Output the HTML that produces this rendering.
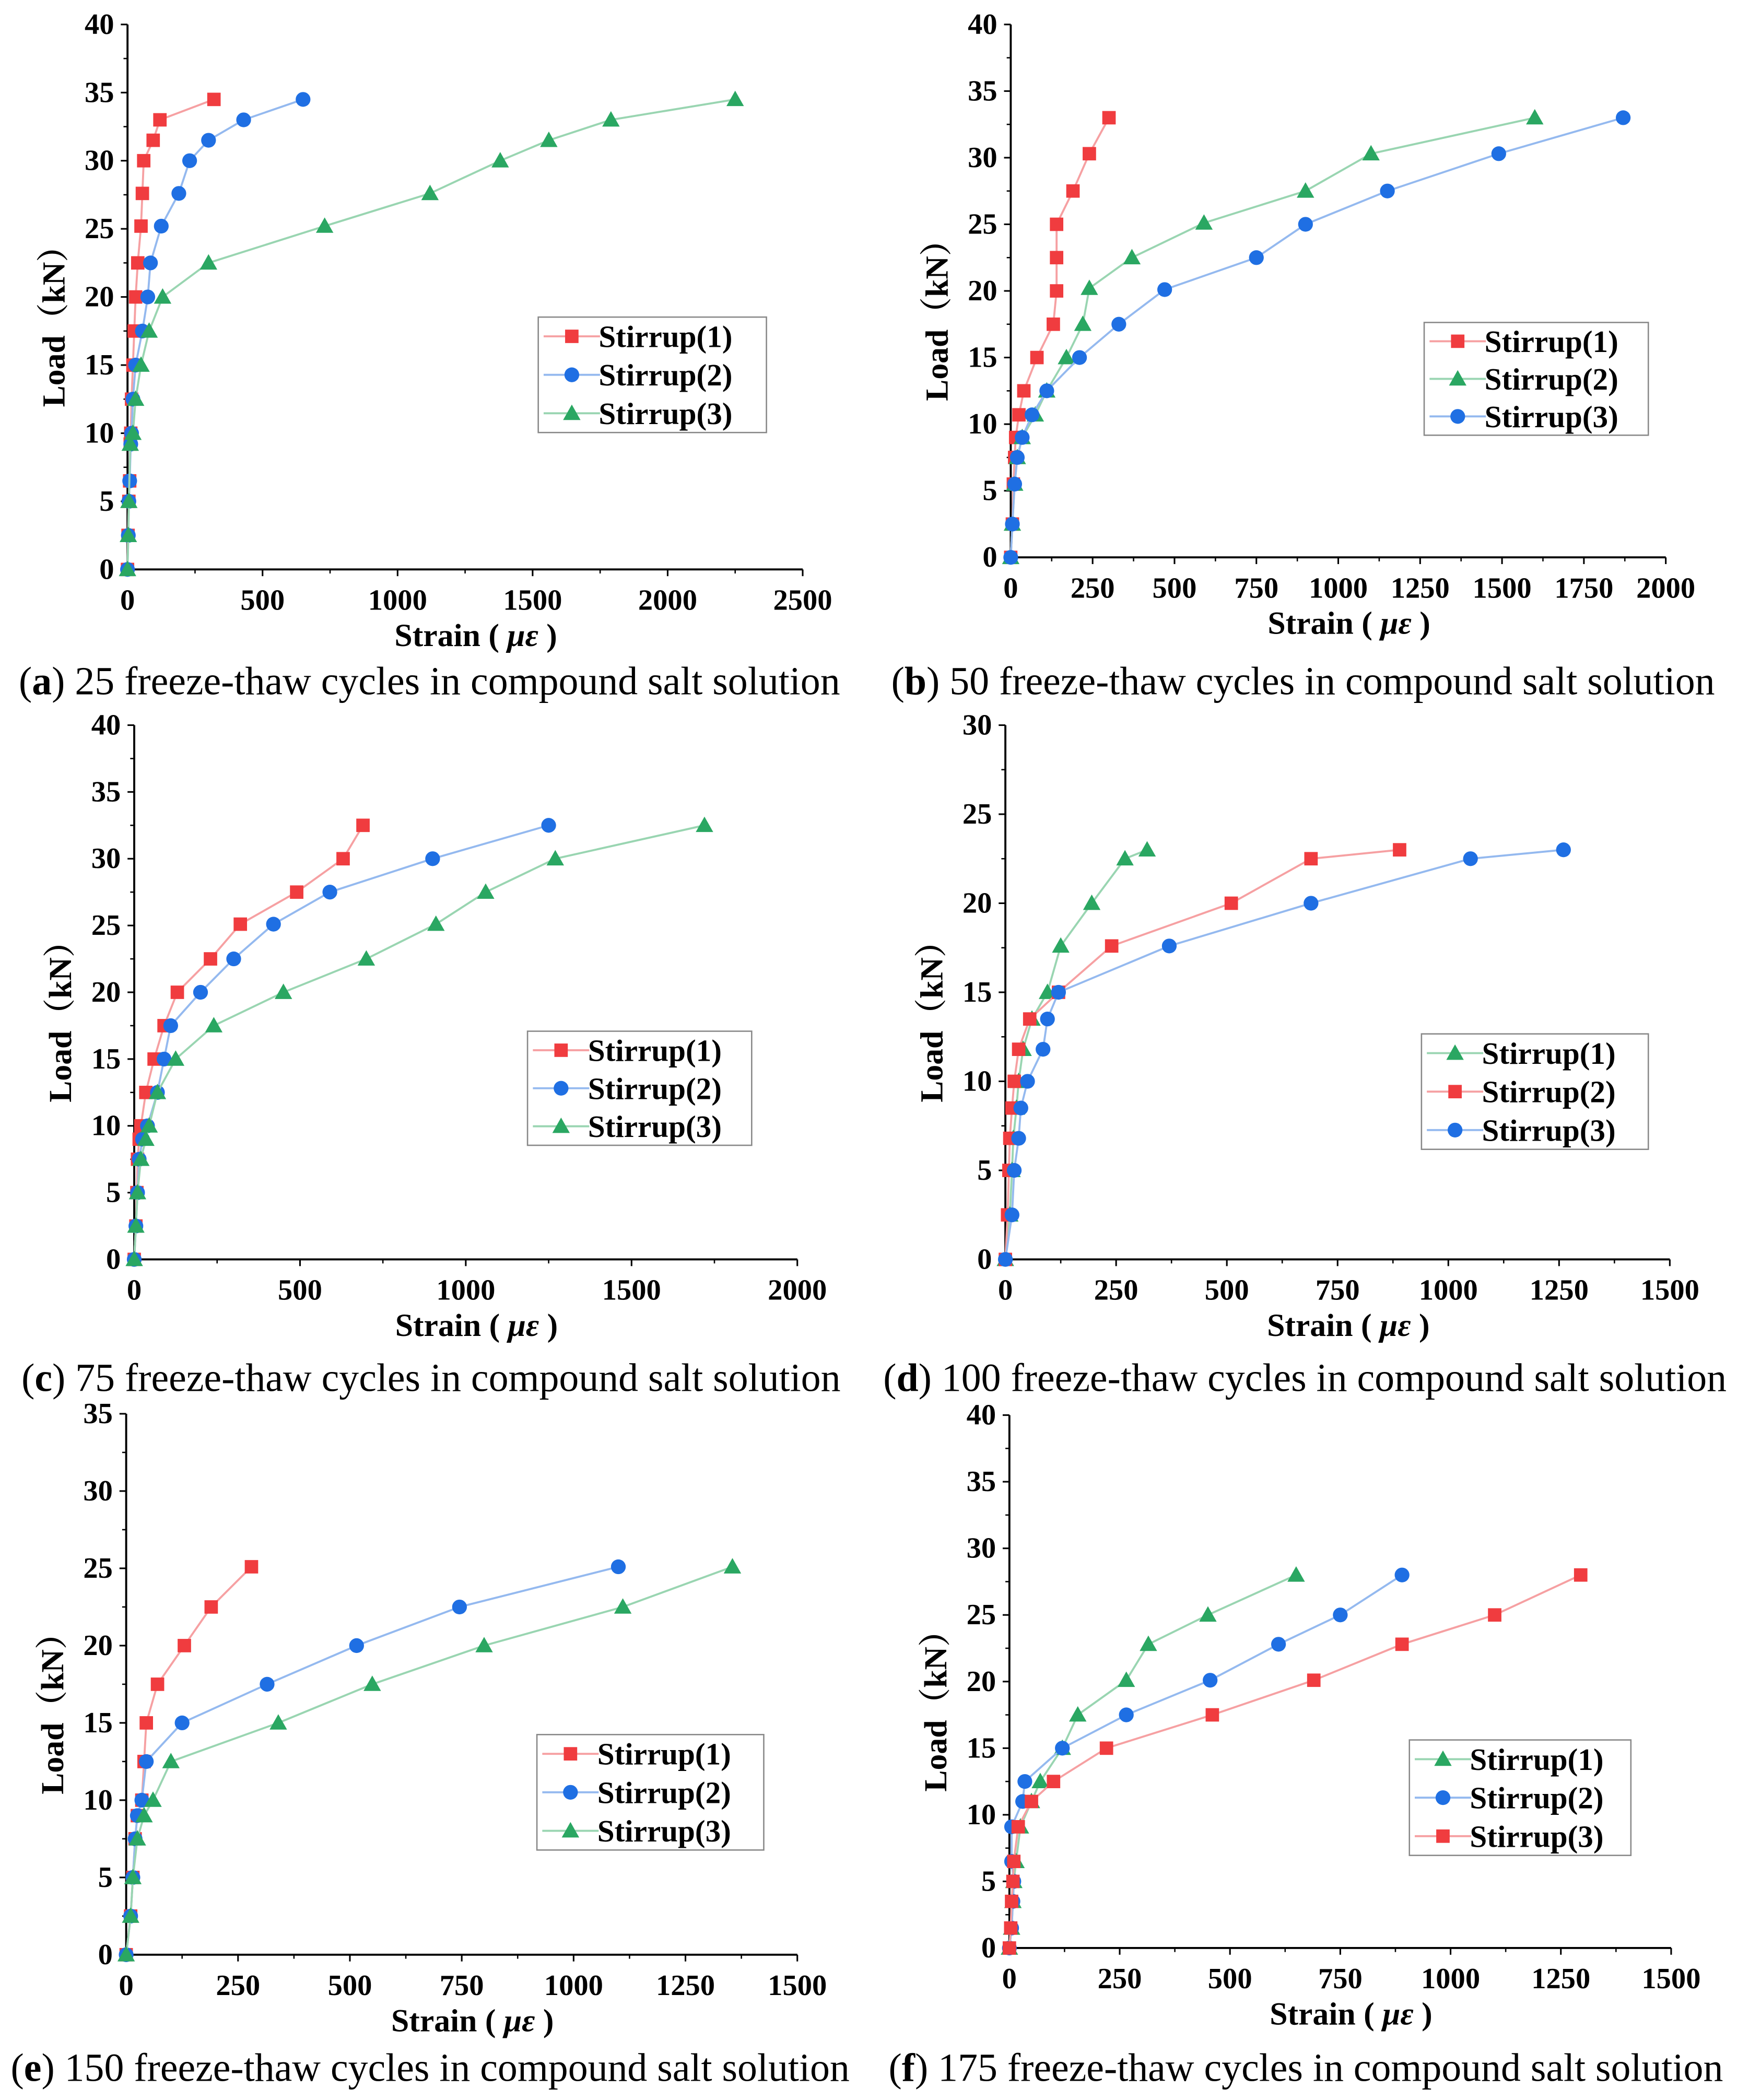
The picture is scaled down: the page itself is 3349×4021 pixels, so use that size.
<!DOCTYPE html>
<html><head><meta charset="utf-8">
<style>
html,body{margin:0;padding:0;background:#fff;}
svg{display:block;}
</style></head>
<body>
<svg id="fig" xmlns="http://www.w3.org/2000/svg" width="3349" height="4021" viewBox="0 0 1303 1564" font-family="Liberation Serif, serif"></svg>
<script>
// ---- data (strain in µε, load in kN) ----
const aS1x=[0,2,5,8,10,12,15,20,25,30,38,50,55,60,95,120,320];
const aS1y=[0,2.5,5,6.5,9.2,10,12.5,15,17.5,20,22.5,25.2,27.6,30,31.5,33,34.5];
const aS2x=[0,3,5,8,12,15,20,30,55,75,85,125,190,230,300,430,650];
const aS2y=[0,2.5,5,6.5,9.2,10,12.5,15,17.5,20,22.5,25.2,27.6,30,31.5,33,34.5];
const aS3x=[0,3,5,10,20,30,50,80,130,300,730,1120,1380,1560,1790,2250];
const aS3y=[0,2.5,5,9.2,10,12.5,15,17.5,20,22.5,25.2,27.6,30,31.5,33,34.5];

const bS1x=[0,5,8,12,15,25,40,80,130,140,140,140,190,240,300];
const bS1y=[0,2.5,5.5,7.5,9,10.7,12.5,15,17.5,20,22.5,25,27.5,30.3,33];
const bS2x=[0,5,12,20,35,75,110,170,220,240,370,590,900,1100,1600];
const bS2y=[0,2.5,5.5,7.5,9,10.7,12.5,15,17.5,20.2,22.5,25.1,27.5,30.3,33];
const bS3x=[0,5,12,20,35,65,110,210,330,470,750,900,1150,1490,1870];
const bS3y=[0,2.5,5.5,7.5,9,10.7,12.5,15,17.5,20.1,22.5,25,27.5,30.3,33];

const cS1x=[0,5,8,10,15,20,35,60,90,130,230,320,490,630,690];
const cS1y=[0,2.5,5,7.5,9,10,12.5,15,17.5,20,22.5,25.1,27.5,30,32.5];
const cS2x=[0,5,10,15,25,40,70,90,110,200,300,420,590,900,1250];
const cS2y=[0,2.5,5,7.5,9,10,12.5,15,17.5,20,22.5,25.1,27.5,30,32.5];
const cS3x=[0,5,10,20,35,45,70,125,240,450,700,910,1060,1270,1720];
const cS3y=[0,2.5,5,7.5,9,10,12.5,15,17.5,20,22.5,25.1,27.5,30,32.5];

const dS1x=[0,10,15,18,25,30,40,60,95,125,195,270,320];
const dS1y=[0,2.5,5,6.8,8.5,10,11.8,13.5,15,17.6,20,22.5,23];
const dS2x=[0,5,8,10,15,20,30,55,120,240,510,690,890];
const dS2y=[0,2.5,5,6.8,8.5,10,11.8,13.5,15,17.6,20,22.5,23];
const dS3x=[0,15,20,30,35,50,85,95,120,370,690,1050,1260];
const dS3y=[0,2.5,5,6.8,8.5,10,11.8,13.5,15,17.6,20,22.5,23];

const eS1x=[0,10,15,20,25,35,40,45,70,130,190,280];
const eS1y=[0,2.5,5,7.5,9,10,12.5,15,17.5,20,22.5,25.1];
const eS2x=[0,10,15,20,25,35,45,125,315,515,745,1100];
const eS2y=[0,2.5,5,7.5,9,10,12.5,15,17.5,20,22.5,25.1];
const eS3x=[0,10,15,25,40,60,100,340,550,800,1110,1355];
const eS3y=[0,2.5,5,7.5,9,10,12.5,15,17.5,20,22.5,25.1];

const fS1x=[0,5,8,10,15,25,50,70,120,155,265,315,450,650];
const fS1y=[0,1.5,3.5,5,6.5,9.1,11,12.5,15,17.5,20.1,22.8,25,28];
const fS2x=[0,5,8,10,5,5,30,35,120,265,455,610,750,890];
const fS2y=[0,1.5,3.5,5,6.5,9.1,11,12.5,15,17.5,20.1,22.8,25,28];
const fS3x=[0,3,5,8,10,20,50,100,220,460,690,890,1100,1295];
const fS3y=[0,1.5,3.5,5,6.5,9.1,11,12.5,15,17.5,20.1,22.8,25,28];

const xTicksA=[0,500,1000,1500,2000,2500];
const xTicksB=[0,250,500,750,1000,1250,1500,1750,2000];
const xTicksC=[0,500,1000,1500,2000];
const xTicks15=[0,250,500,750,1000,1250,1500];
const yTicks40=[0,5,10,15,20,25,30,35,40];
const yTicks30=[0,5,10,15,20,25,30];
const yTicks35=[0,5,10,15,20,25,30,35];
const legendNames=["Stirrup(1)","Stirrup(2)","Stirrup(3)"];

const RED={m:"#f03c3f",l:"#f6a0a2"}, BLUE={m:"#1f6fe3",l:"#94b9ef"}, GREEN={m:"#2aa762",l:"#99d5b1"};
const NS="http://www.w3.org/2000/svg";
const SERIF='"Liberation Serif", "Noto Serif CJK SC", serif';
const svg=document.getElementById('fig');
function mk(tag,attrs,parent){const e=document.createElementNS(NS,tag);for(const k in attrs)e.setAttribute(k,attrs[k]);(parent||svg).appendChild(e);return e;}

function marker(g,shape,x,y,color){
  let e;
  if(shape==='sq') e=mk('rect',{x:x-5,y:y-5,width:10,height:10,fill:color},g);
  else if(shape==='ci') e=mk('circle',{cx:x,cy:y,r:5.5,fill:color},g);
  else e=mk('polygon',{points:`${x},${y-6.5} ${x-6.5},${y+5} ${x+6.5},${y+5}`,fill:color},g);
  return e;
}

function panel(p){
  const g=mk('g',{});
  
  
  const sx=v=>p.x0+(v/p.xmax)*(p.x1-p.x0);
  const sy=v=>p.y0-(v/p.ymax)*(p.y0-p.y1);
  const ax=mk('g',{},g);
  
  
  mk('line',{x1:p.x0,y1:p.y0,x2:p.x1,y2:p.y0,stroke:'#000','stroke-width':1.5},ax);
  mk('line',{x1:p.x0,y1:p.y0,x2:p.x0,y2:p.y1,stroke:'#000','stroke-width':1.5},ax);
  for(let i=0;i<p.xt.length;i++){
    const v=p.xt[i],X=sx(v);
    mk('line',{x1:X,y1:p.y0,x2:X,y2:p.y0+5,stroke:'#000','stroke-width':1.2},ax);
    if(i<p.xt.length-1){const m=sx((v+p.xt[i+1])/2);mk('line',{x1:m,y1:p.y0,x2:m,y2:p.y0+3,stroke:'#000','stroke-width':1},ax);}
    const t=mk('text',{x:X,y:p.y0+30,'text-anchor':'middle','font-size':22,'font-weight':'bold','font-family':SERIF},ax);
    t.textContent=v;
    
    
  }
  for(let i=0;i<p.yt.length;i++){
    const v=p.yt[i],Y=sy(v);
    mk('line',{x1:p.x0,y1:Y,x2:p.x0-5,y2:Y,stroke:'#000','stroke-width':1.2},ax);
    if(i<p.yt.length-1){const m=sy((v+p.yt[i+1])/2);mk('line',{x1:m,y1:m,x2:p.x0-3,y2:m,stroke:'none'},ax);mk('line',{x1:p.x0,y1:m,x2:p.x0-3,y2:m,stroke:'#000','stroke-width':1},ax);}
    const t=mk('text',{x:p.x0-10,y:Y+7,'text-anchor':'end','font-size':22,'font-weight':'bold','font-family':SERIF},ax);
    t.textContent=v;
    
    
  }
  const xl=mk('text',{x:(p.x0+p.x1)/2+8,y:p.y0+57,'text-anchor':'middle','font-size':24,'font-weight':'bold','font-family':SERIF},g);
  xl.innerHTML='Strain ( <tspan font-style="italic">με</tspan> )';
  
  
  const yc=(p.y0+p.y1)/2+16;
  const yl=mk('text',{x:p.x0-47,y:yc,'text-anchor':'middle','font-size':24,'font-weight':'bold',transform:`rotate(-90 ${p.x0-47} ${yc})`,'font-family':SERIF},g);
  yl.textContent='Load（kN）';
  
  
  p.series.forEach((s,si)=>{
    const sg=mk('g',{},g);
    
    
    const pts=s.x.map((v,i)=>sx(v)+','+sy(s.y[i])).join(' ');
    mk('polyline',{points:pts,fill:'none',stroke:s.c.l,'stroke-width':1.5},sg);
    s.x.forEach((v,i)=>{
      const m=marker(sg,s.shape,sx(v),sy(s.y[i]),s.c.m);
      
      
    });
  });
  const lg=mk('g',{},g);
  
  
  const L=p.leg;
  mk('rect',{x:L[0],y:L[1],width:L[2]-L[0],height:L[3]-L[1],fill:'#fff',stroke:'#888','stroke-width':1},lg);
  const rowH=(L[3]-L[1])/3;
  p.legOrder.forEach((si,r)=>{
    const s=p.series[si];
    const cy=L[1]+rowH*(r+0.5);
    const eg=mk('g',{},lg);
    
    
    mk('line',{x1:L[0]+4,y1:cy,x2:L[0]+46,y2:cy,stroke:s.c.l,'stroke-width':1.5},eg);
    marker(eg,s.shape,L[0]+25,cy,s.c.m);
    const t=mk('text',{x:L[0]+45,y:cy+8,'font-size':23,'font-weight':'bold','font-family':SERIF},eg);
    t.textContent=legendNames[r];
  });
  const cap=mk('text',{x:p.capX,y:p.capY,'font-size':29.5,'font-family':SERIF},g);
  cap.innerHTML=`(<tspan font-weight="bold">${p.id}</tspan>) ${p.cap}`;
  
  
}

panel({id:'a',x0:95,x1:598,xmax:2500,y0:424,y1:18,ymax:40,xt:xTicksA,yt:yTicks40,
  series:[{x:aS1x,y:aS1y,c:RED,shape:'sq'},{x:aS2x,y:aS2y,c:BLUE,shape:'ci'},{x:aS3x,y:aS3y,c:GREEN,shape:'tr'}],
  legOrder:[0,1,2],leg:[401,236,571,322],capX:14,capY:517,cap:'25 freeze-thaw cycles in compound salt solution'});
panel({id:'b',x0:753,x1:1241,xmax:2000,y0:415,y1:18,ymax:40,xt:xTicksB,yt:yTicks40,
  series:[{x:bS1x,y:bS1y,c:RED,shape:'sq'},{x:bS2x,y:bS2y,c:GREEN,shape:'tr'},{x:bS3x,y:bS3y,c:BLUE,shape:'ci'}],
  legOrder:[0,1,2],leg:[1061,240,1228,324],capX:664,capY:517,cap:'50 freeze-thaw cycles in compound salt solution'});
panel({id:'c',x0:100,x1:594,xmax:2000,y0:938,y1:540,ymax:40,xt:xTicksC,yt:yTicks40,
  series:[{x:cS1x,y:cS1y,c:RED,shape:'sq'},{x:cS2x,y:cS2y,c:BLUE,shape:'ci'},{x:cS3x,y:cS3y,c:GREEN,shape:'tr'}],
  legOrder:[0,1,2],leg:[393,768,560,853],capX:16,capY:1036,cap:'75 freeze-thaw cycles in compound salt solution'});
panel({id:'d',x0:749,x1:1244,xmax:1500,y0:938,y1:540,ymax:30,xt:xTicks15,yt:yTicks30,
  series:[{x:dS1x,y:dS1y,c:GREEN,shape:'tr'},{x:dS2x,y:dS2y,c:RED,shape:'sq'},{x:dS3x,y:dS3y,c:BLUE,shape:'ci'}],
  legOrder:[0,1,2],leg:[1059,770,1228,856],capX:658,capY:1036,cap:'100 freeze-thaw cycles in compound salt solution'});
panel({id:'e',x0:94,x1:594,xmax:1500,y0:1456,y1:1053,ymax:35,xt:xTicks15,yt:yTicks35,
  series:[{x:eS1x,y:eS1y,c:RED,shape:'sq'},{x:eS2x,y:eS2y,c:BLUE,shape:'ci'},{x:eS3x,y:eS3y,c:GREEN,shape:'tr'}],
  legOrder:[0,1,2],leg:[400,1292,569,1378],capX:8,capY:1550,cap:'150 freeze-thaw cycles in compound salt solution'});
panel({id:'f',x0:752,x1:1245,xmax:1500,y0:1451,y1:1054,ymax:40,xt:xTicks15,yt:yTicks40,
  series:[{x:fS1x,y:fS1y,c:GREEN,shape:'tr'},{x:fS2x,y:fS2y,c:BLUE,shape:'ci'},{x:fS3x,y:fS3y,c:RED,shape:'sq'}],
  legOrder:[0,1,2],leg:[1050,1296,1215,1382],capX:662,capY:1550,cap:'175 freeze-thaw cycles in compound salt solution'});
</script>
</body></html>
